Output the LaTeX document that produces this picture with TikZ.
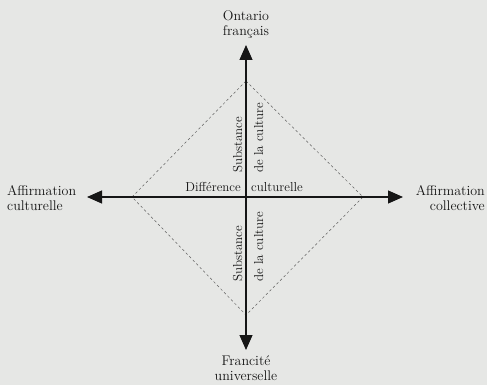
\documentclass[tikz,border=0pt]{standalone}
\usepackage{amsmath}
\usetikzlibrary{arrows.meta}
\definecolor{paper}{RGB}{230,231,229}
\definecolor{ink}{RGB}{22,22,22}
\definecolor{dashink}{RGB}{95,95,95}

\begin{document}
\begin{tikzpicture}[x=1pt,y=-1pt,
    axis/.style={line width=1.2pt,draw=ink,{Triangle[length=15pt,width=13pt]}-{Triangle[length=15pt,width=13pt]}},
    pole/.style={text=ink,font=\fontsize{14}{15}\selectfont,inner sep=0pt},
    inlabel/.style={text=ink,font=\fontsize{13}{14}\selectfont,inner sep=0pt}]
          \begin{scope}
            \fill[paper] (0,0) rectangle (487,385);
            \useasboundingbox (0,0) rectangle (487,385);
            % axis ends and diamond corners
            \coordinate (O) at (246,197);
            \coordinate (top) at (246,45);
            \coordinate (bottom) at (246,350);
            \coordinate (left) at (87,197);
            \coordinate (right) at (403,197);
            \coordinate (dtop) at (246,81);
            \coordinate (dbottom) at (246,315);
            \coordinate (dleft) at (132,197);
            \coordinate (dright) at (363,197);
            \draw[dashink,line width=0.5pt,dash pattern=on 2.5pt off 2.5pt] (dtop) -- (dright) -- (dbottom) -- (dleft) -- cycle;
            \draw[axis] (left) -- (right);
            \draw[axis] (top) -- (bottom);
            % poles
            \node[pole,align=center,anchor=north] (ontario) at (246,10) {Ontario\\fran\c{c}ais};
            \node[pole,align=center,anchor=north] (francite) at (246,356) {Francit\'e\\universelle};
            \node[pole,align=left,anchor=north west] (affcult) at (7,185) {Affirmation\\culturelle};
            \node[pole,align=right,anchor=north east] (affcoll) at (485,185) {Affirmation\\collective};
            % labels on the axes
            \node[inlabel,anchor=base east] (diff) at (241,191) {Diff\'erence};
            \node[inlabel,anchor=base west] (cult) at (251,191) {culturelle};
            \node[inlabel,rotate=90,anchor=base west] (subN) at (242,173) {Substance};
            \node[inlabel,rotate=90,anchor=base west] (cultN) at (263,173) {de la culture};
            \node[inlabel,rotate=90,anchor=base west] (subS) at (242,282) {Substance};
            \node[inlabel,rotate=90,anchor=base west] (cultS) at (263,282) {de la culture};
          \end{scope}
        \end{tikzpicture}
\end{document}
